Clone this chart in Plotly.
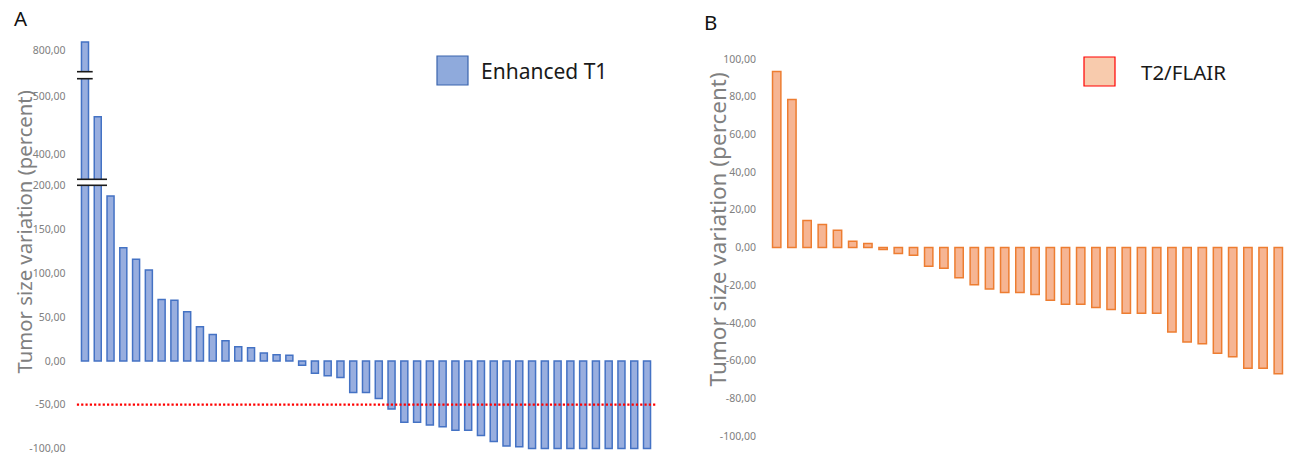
import plotly.graph_objects as go

# ---------------- data ----------------
t1_values = [815, 464, 188, 129, 116, 103.5, 70, 69, 56, 39, 30, 23, 16, 15, 9, 7, 6.5,
             -5, -14, -17, -19, -36, -36, -43, -55, -70, -70, -73, -75, -79, -79, -85,
             -92, -97, -98, -100, -100, -100, -100, -100, -100, -100, -100, -100, -100]
t1_patients = list(range(1, len(t1_values) + 1))

flair_values = [93.4, 78.5, 14.3, 12.2, 9.2, 3.3, 2.1, -1.1, -3.2, -4.1, -9.9, -11, -16.1,
                -19.8, -22, -23.9, -23.9, -24.9, -28, -30.1, -30.1, -31.8, -32.9, -34.9,
                -34.9, -34.9, -44.8, -50.1, -51, -56.1, -57.9, -64, -64, -66.9]
flair_patients = list(range(1, len(flair_values) + 1))

# broken-axis segments for panel A (low, mid, high)
a_low_range = [-103, 200]
a_mid_range = [356, 530]
a_high_range = [764, 822]
a_low_ticks = [-100, -50, 0, 50, 100, 150, 200]
a_mid_ticks = [400, 500]
a_high_ticks = [800]
b_range = [-102, 102]
b_ticks = [-100, -80, -60, -40, -20, 0, 20, 40, 60, 80, 100]
threshold = -50

W, H = 1298, 460


def px_y(p):
    return 1 - p / H


def px_x(p):
    return p / W


def fmt(vals):
    return [f"{v:.2f}".replace(".", ",") for v in vals]


T1_FILL = "#98aedf"
T1_LINE = "#4472c4"
FL_FILL = "#f6b593"
FL_LINE = "#ed7d31"
TICK_COLOR = "#808080"
FONT = "Noto Sans"

fig = go.Figure()

for xa, ya in [("x", "y"), ("x2", "y2"), ("x3", "y3")]:
    fig.add_trace(go.Bar(x=[str(p) for p in t1_patients], y=t1_values, xaxis=xa, yaxis=ya,
                         marker=dict(color=T1_FILL, line=dict(color=T1_LINE, width=1.5)),
                         showlegend=False, hoverinfo="skip"))

fig.add_trace(go.Bar(x=[str(p) for p in flair_patients], y=flair_values, xaxis="x4", yaxis="y4",
                     marker=dict(color=FL_FILL, line=dict(color=FL_LINE, width=1.5)),
                     showlegend=False, hoverinfo="skip"))

a_xdom = [px_x(78.6), px_x(653.4)]
b_xdom = [px_x(769.1), px_x(1285.9)]

low_dom = [px_y(451.2), px_y(185.5)]
mid_dom = [px_y(179.3), px_y(78.7)]
high_dom = [px_y(71.7), px_y(38)]
b_dom = [px_y(439.8), px_y(55.2)]

xcommon = dict(visible=False, showgrid=False, zeroline=False, fixedrange=True, automargin=False)


def ycommon(size):
    return dict(showgrid=False, zeroline=False, showline=False, ticks="outside", ticklen=10,
                automargin=False, tickcolor="rgba(0,0,0,0)",
                tickfont=dict(family=FONT, size=size, color=TICK_COLOR))


fig.update_layout(
    template="none",
    width=W, height=H, autosize=False,
    margin=dict(l=0, r=0, t=0, b=0, pad=0, autoexpand=False),
    showlegend=False,
    plot_bgcolor="white", paper_bgcolor="white",
    bargap=0.45,
    xaxis=dict(domain=a_xdom, anchor="y", **xcommon),
    xaxis2=dict(domain=a_xdom, anchor="y2", matches="x", **xcommon),
    xaxis3=dict(domain=a_xdom, anchor="y3", matches="x", **xcommon),
    xaxis4=dict(domain=b_xdom, anchor="y4", **xcommon),
    yaxis=dict(domain=low_dom, anchor="x", range=a_low_range, tickvals=a_low_ticks,
               ticktext=fmt(a_low_ticks), **ycommon(10.5)),
    yaxis2=dict(domain=mid_dom, anchor="x2", range=a_mid_range, tickvals=a_mid_ticks,
                ticktext=fmt(a_mid_ticks), **ycommon(10.5)),
    yaxis3=dict(domain=high_dom, anchor="x3", range=a_high_range, tickvals=a_high_ticks,
                ticktext=fmt(a_high_ticks), **ycommon(10.5)),
    yaxis4=dict(domain=b_dom, anchor="x4", range=b_range, tickvals=b_ticks,
                ticktext=fmt(b_ticks), **ycommon(10.5)),
)

# threshold line (-50 %)
fig.add_shape(type="line", xref="x domain", yref="y", x0=-0.003, x1=1.006, y0=threshold, y1=threshold,
              line=dict(color="#ff0000", width=2.2, dash="2.2px,2.1px"))

# axis-break marks
for yp, x_end in [(71.7, 92.7), (78.7, 92.7), (179.3, 107), (185.3, 107)]:
    fig.add_shape(type="line", xref="paper", yref="paper", x0=px_x(77), x1=px_x(x_end),
                  y0=px_y(yp), y1=px_y(yp), line=dict(color="#1a1a1a", width=1.6))

# legends (drawn manually)
fig.add_shape(type="rect", xref="paper", yref="paper", x0=px_x(437), x1=px_x(468),
              y0=px_y(85), y1=px_y(56), fillcolor="#8faadc", line=dict(color="#3b64ad", width=1.2))
fig.add_annotation(text="Enhanced T1", xref="paper", yref="paper", x=px_x(479), y=px_y(71),
                   xanchor="left", yanchor="middle", showarrow=False,
                   font=dict(family=FONT, size=21, color="#1a1a1a"))
fig.add_shape(type="rect", xref="paper", yref="paper", x0=px_x(1084), x1=px_x(1115),
              y0=px_y(86), y1=px_y(57), fillcolor="#f8cbad", line=dict(color="#ff0000", width=1.2))
fig.add_annotation(text="T2/FLAIR", xref="paper", yref="paper", x=px_x(1139), y=px_y(72),
                   xanchor="left", yanchor="middle", showarrow=False,
                   font=dict(family=FONT, size=20.5, color="#1a1a1a"))

# axis titles
for xp, yp, sz in [(23, 232.5, 20.3), (716.5, 230, 22.5)]:
    fig.add_annotation(text="Tumor size variation (percent)", xref="paper", yref="paper",
                       x=px_x(xp), y=px_y(yp), xanchor="center", yanchor="middle", textangle=-90,
                       showarrow=False, font=dict(family=FONT, size=sz, color=TICK_COLOR))

# panel labels
fig.add_annotation(text="A", xref="paper", yref="paper", x=px_x(12), y=px_y(18),
                   xanchor="left", yanchor="middle", showarrow=False,
                   font=dict(family=FONT, size=20.5, color="#111111"))
fig.add_annotation(text="B", xref="paper", yref="paper", x=px_x(702), y=px_y(22.5),
                   xanchor="left", yanchor="middle", showarrow=False,
                   font=dict(family=FONT, size=20.5, color="#111111"))

fig.write_html("out.html", config={"displayModeBar": False},
               post_script="document.body.style.margin='0';document.body.style.padding='0';")
